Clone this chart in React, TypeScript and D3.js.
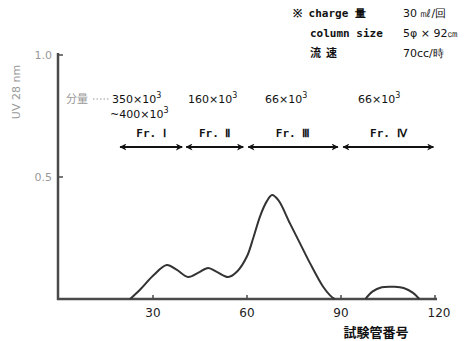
import React from "react";
import * as d3 from "d3";

// elution profile (tube number, UV absorbance)
const mainTubes = [22.7, 26, 30, 34.4, 37.5, 41.2, 44.5, 47.6, 50.5, 54, 57, 60, 62, 64.2, 66.3, 68, 70, 73.7, 77, 80.1, 84.3, 86.5, 88];
const mainValues = [0, 0.04, 0.095, 0.139, 0.12, 0.09, 0.108, 0.127, 0.11, 0.09, 0.115, 0.175, 0.25, 0.34, 0.4, 0.426, 0.405, 0.31, 0.226, 0.147, 0.05, 0.015, 0];
const tailTubes = [97.8, 100, 103, 107, 110, 113, 115];
const tailValues = [0, 0.03, 0.048, 0.05, 0.045, 0.025, 0];

const xTicks = [30, 60, 90, 120];
const yTicks = [0.5, 1.0];
const yTickLabels = ["0.5", "1.0"];

// fractions: start tube, end tube, label, molecular weight
const fracStart = [19.5, 40.6, 60.4, 90.7];
const fracEnd = [39.3, 58.8, 89, 119.5];
const fracLabels = ["Fr. Ⅰ", "Fr. Ⅱ", "Fr. Ⅲ", "Fr. Ⅳ"];
const fracMW = ["350", "160", "66", "66"];

const infoKeys = ["※ charge 量", "column size", "流  速"];
const infoVals = ["30 ㎖/回", "5φ × 92㎝", "70cc/時"];

const width = 474;
const height = 341;
const left = 59;
const bottom = 299;

export default function App() {
  const x = d3.scaleLinear().domain([0, 120]).range([left, 435]);
  const y = d3.scaleLinear().domain([0, 1]).range([bottom, 55]);
  const mk = (ts: number[], vs: number[]) =>
    d3
      .line<number>()
      .x((t) => x(t))
      .y((_, i) => y(vs[i]))
      .curve(d3.curveCatmullRom.alpha(0.5))(ts);

  const axisColor = "#4a4a4a";
  const jp = "'Noto Sans CJK JP', sans-serif";
  const mono = "'DejaVu Sans Mono', monospace";
  const sans = "'DejaVu Sans', sans-serif";
  const arrowY = 147;

  return (
    <svg
      width={width}
      height={height}
      style={{ position: "absolute", left: 0, top: 0, background: "#fff" }}
    >
      <defs>
        <marker id="ah" viewBox="0 0 10 10" refX="9" refY="5" markerWidth="7" markerHeight="7" orient="auto-start-reverse" markerUnits="userSpaceOnUse">
          <path d="M0,0 L10,5 L0,10 L3,5 Z" fill="#111" />
        </marker>
      </defs>

      {/* top-right notes */}
      {infoKeys.map((k, i) => (
        <text key={k} x={i === 0 ? 293 : 310} y={17 + i * 20} fontFamily={i === 2 ? jp : mono} fontWeight="bold" fontSize={11} fill="#111" style={{ whiteSpace: "pre" }}>
          {k}
        </text>
      ))}
      {infoVals.map((v, i) => (
        <text key={v} x={403} y={17 + i * 20} fontFamily={sans} fontSize={11} fill="#111">
          {v}
        </text>
      ))}

      {/* axes */}
      <line x1={left - 1} x2={left - 1} y1={y(1) - 2} y2={bottom + 1} stroke={axisColor} strokeWidth={2.5} />
      <line x1={left - 2} x2={x(120) + 2} y1={bottom} y2={bottom} stroke={axisColor} strokeWidth={2.5} />
      {yTicks.map((t, i) => (
        <g key={t}>
          <line x1={left} x2={left + 4} y1={y(t)} y2={y(t)} stroke={axisColor} strokeWidth={1.5} />
          <text x={left - 7} y={y(t) + 4} textAnchor="end" fontFamily={sans} fontSize={11} fill="#999">
            {yTickLabels[i]}
          </text>
        </g>
      ))}
      {xTicks.map((t) => (
        <g key={t}>
          <line x1={x(t)} x2={x(t)} y1={bottom} y2={bottom - 4} stroke={axisColor} strokeWidth={1.5} />
          <text x={x(t) + (t === 120 ? 4 : 0)} y={bottom + 18} textAnchor="middle" fontFamily={sans} fontSize={12} fill="#222">
            {t}
          </text>
        </g>
      ))}
      <text x={376} y={337} textAnchor="middle" fontFamily={jp} fontWeight="bold" fontSize={13} fill="#111">
        試験管番号
      </text>
      <text transform={`translate(20,92) rotate(-90)`} textAnchor="middle" fontFamily={sans} fontSize={11} fill="#999">
        UV 28 nm
      </text>

      {/* molecular weights */}
      <text x={66} y={103} fontFamily={jp} fontSize={11} fill="#999">
        分量
      </text>
      <line x1={93} x2={110} y1={99} y2={99} stroke="#999" strokeWidth={1} strokeDasharray="1.5,2" />
      {fracMW.map((m, i) => (
        <text key={i} x={[112, 188, 265, 358][i]} y={103} fontFamily={sans} fontSize={11} fill="#111">
          {m}×10<tspan dy={-5} fontSize={8}>3</tspan>
        </text>
      ))}
      <text x={110} y={118} fontFamily={sans} fontSize={11} fill="#111">
        ~400×10<tspan dy={-5} fontSize={8}>3</tspan>
      </text>

      {/* fraction arrows */}
      {fracLabels.map((f, i) => (
        <g key={f}>
          <text x={(x(fracStart[i]) + x(fracEnd[i])) / 2} y={137} textAnchor="middle" fontFamily={mono} fontWeight="bold" fontSize={11} fill="#111">
            {f}
          </text>
          <line
            x1={x(fracStart[i])}
            x2={x(fracEnd[i])}
            y1={arrowY}
            y2={arrowY}
            stroke="#111"
            strokeWidth={1.8}
            markerStart="url(#ah)"
            markerEnd="url(#ah)"
          />
        </g>
      ))}

      {/* curves */}
      <path d={mk(mainTubes, mainValues) ?? ""} fill="none" stroke="#333" strokeWidth={2} strokeLinejoin="round" />
      <path d={mk(tailTubes, tailValues) ?? ""} fill="none" stroke="#333" strokeWidth={2} strokeLinejoin="round" />
    </svg>
  );
}
